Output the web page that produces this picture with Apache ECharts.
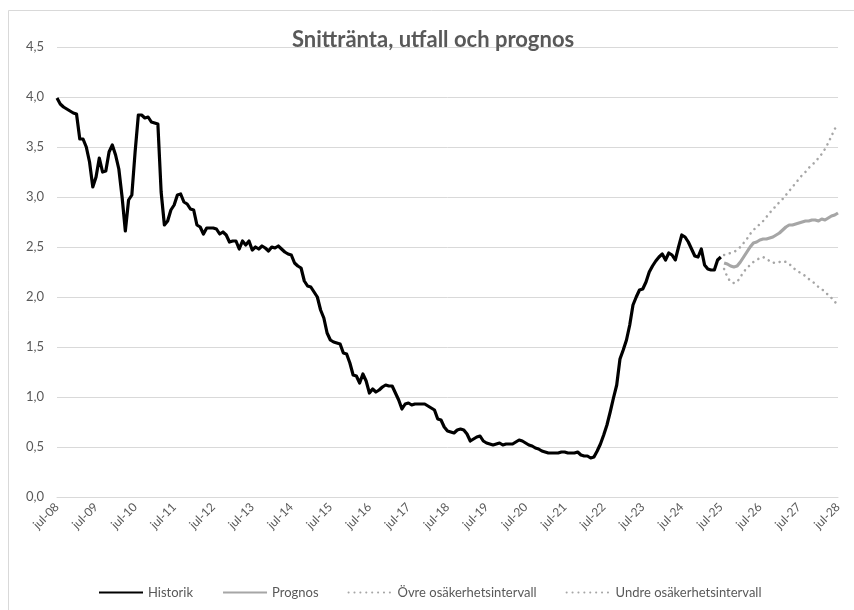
<!DOCTYPE html>
<html>
<head>
<meta charset="utf-8">
<script src="https://cdn.jsdelivr.net/npm/echarts@6/dist/echarts.min.js"></script>
<style>
html,body{margin:0;padding:0;background:#fff;}
#chart{width:854px;height:610px;}
</style>
</head>
<body>
<div id="chart"></div>
<script>
// Month names (Swedish) and period: jul-08 .. jul-28
var monthNames = ['jan','feb','mar','apr','maj','jun','jul','aug','sep','okt','nov','dec'];
var startYear = 2008, startMonth = 6, monthCount = 241;

// Historik: jul-08 .. jul-25 (monthly)
var historik = [
  3.99, 3.93, 3.90, 3.88, 3.86, 3.84, 3.83, 3.58, 3.58, 3.50,
  3.35, 3.10, 3.20, 3.39, 3.25, 3.26, 3.45, 3.52, 3.42, 3.28,
  3.00, 2.66, 2.97, 3.02, 3.45, 3.82, 3.82, 3.79, 3.80, 3.75,
  3.74, 3.73, 3.05, 2.72, 2.76, 2.87, 2.92, 3.02, 3.03, 2.95,
  2.93, 2.88, 2.87, 2.72, 2.70, 2.63, 2.69, 2.69, 2.69, 2.68,
  2.63, 2.65, 2.62, 2.55, 2.56, 2.56, 2.48, 2.56, 2.52, 2.56,
  2.47, 2.50, 2.48, 2.51, 2.49, 2.46, 2.50, 2.49, 2.51, 2.48,
  2.45, 2.43, 2.42, 2.34, 2.31, 2.29, 2.16, 2.11, 2.10, 2.05,
  2.00, 1.87, 1.79, 1.64, 1.57, 1.55, 1.54, 1.53, 1.44, 1.43,
  1.34, 1.22, 1.21, 1.14, 1.23, 1.16, 1.04, 1.08, 1.05, 1.07,
  1.10, 1.12, 1.11, 1.11, 1.04, 0.97, 0.88, 0.93, 0.94, 0.92,
  0.93, 0.93, 0.93, 0.93, 0.91, 0.89, 0.87, 0.78, 0.77, 0.70,
  0.66, 0.65, 0.64, 0.67, 0.68, 0.67, 0.63, 0.56, 0.58, 0.60,
  0.61, 0.56, 0.54, 0.53, 0.52, 0.53, 0.54, 0.52, 0.53, 0.53,
  0.53, 0.55, 0.57, 0.56, 0.54, 0.52, 0.51, 0.49, 0.48, 0.46,
  0.45, 0.44, 0.44, 0.44, 0.44, 0.45, 0.45, 0.44, 0.44, 0.44,
  0.45, 0.42, 0.41, 0.41, 0.39, 0.40, 0.46, 0.53, 0.62, 0.72,
  0.85, 0.99, 1.12, 1.38, 1.47, 1.57, 1.72, 1.92, 2.00, 2.07,
  2.08, 2.15, 2.25, 2.31, 2.36, 2.40, 2.43, 2.37, 2.44, 2.42,
  2.37, 2.50, 2.62, 2.60, 2.55, 2.48, 2.41, 2.40, 2.48, 2.32,
  2.28, 2.27, 2.27, 2.37, 2.40
];

// Prognos and intervals: aug-25 .. jul-28
var prognos = [
  2.34, 2.33, 2.31, 2.30, 2.31, 2.35, 2.40, 2.45, 2.50, 2.54,
  2.55, 2.57, 2.58, 2.58, 2.59, 2.60, 2.62, 2.64, 2.67, 2.70,
  2.72, 2.72, 2.73, 2.74, 2.75, 2.76, 2.76, 2.77, 2.77, 2.76,
  2.78, 2.77, 2.79, 2.81, 2.82, 2.84
];
var ovre = [
  2.42, 2.43, 2.44, 2.45, 2.47, 2.50, 2.54, 2.58, 2.63, 2.67,
  2.70, 2.73, 2.76, 2.80, 2.84, 2.88, 2.91, 2.95, 2.98, 3.02,
  3.06, 3.10, 3.14, 3.18, 3.22, 3.25, 3.29, 3.32, 3.35, 3.39,
  3.43, 3.48, 3.54, 3.61, 3.68, 3.73
];
var undre = [
  2.28, 2.20, 2.15, 2.14, 2.15, 2.20, 2.25, 2.29, 2.32, 2.35,
  2.37, 2.39, 2.40, 2.38, 2.36, 2.34, 2.35, 2.35, 2.36, 2.35,
  2.33, 2.30, 2.27, 2.25, 2.23, 2.21, 2.18, 2.16, 2.13, 2.10,
  2.08, 2.05, 2.02, 1.99, 1.95, 1.93
];

var seriesNames = ['Historik', 'Prognos', 'Övre osäkerhetsintervall', 'Undre osäkerhetsintervall'];
var titleText = 'Snittränta, utfall och prognos';

// Build categories
var categories = [];
for (var i = 0; i < monthCount; i++) {
  var mi = (startMonth + i) % 12;
  var yr = startYear + Math.floor((startMonth + i) / 12);
  categories.push(monthNames[mi] + '-' + String(yr % 100).padStart(2, '0'));
}
function pad(before, arr) {
  var out = [];
  for (var k = 0; k < before; k++) out.push(null);
  return out.concat(arr).concat(new Array(Math.max(0, monthCount - before - arr.length)).fill(null));
}
var fStart = historik.length;

var textColor = '#595959';
var font = 'Lato, "Open Sans", sans-serif';
var chart = echarts.init(document.getElementById('chart'), null, {renderer: 'canvas'});
chart.setOption({
  animation: false,
  backgroundColor: '#fff',
  graphic: [{
    type: 'rect', silent: true, z: -10,
    shape: {x: 8.5, y: 10.5, width: 900, height: 700},
    style: {fill: '#fff', stroke: '#d9d9d9', lineWidth: 1}
  }],
  title: {
    text: titleText, left: 292, top: 29, padding: 0,
    textStyle: {fontFamily: font, fontWeight: 'bold', fontSize: 22, color: textColor}
  },
  grid: {left: 57, right: 16, top: 47, bottom: 113, containLabel: false},
  legend: {
    bottom: 6, left: 93, itemGap: 29, itemWidth: 44, itemHeight: 10,
    itemStyle: {opacity: 0, borderWidth: 0},
    textStyle: {fontFamily: font, fontSize: 13, color: textColor},
    data: seriesNames
  },
  xAxis: {
    type: 'category', data: categories, boundaryGap: false,
    axisLine: {lineStyle: {color: '#d9d9d9', width: 1}},
    axisTick: {show: false},
    axisLabel: {interval: 11, rotate: 45, margin: 8, fontFamily: font, fontSize: 12, color: textColor},
    splitLine: {show: false}
  },
  yAxis: {
    type: 'value', min: 0, max: 4.5, interval: 0.5,
    axisLine: {show: false}, axisTick: {show: false},
    axisLabel: {margin: 13, fontFamily: font, fontSize: 13, color: textColor,
      formatter: function (v) { return v.toFixed(1).replace('.', ','); }},
    splitLine: {lineStyle: {color: '#d9d9d9', width: 1}}
  },
  series: [
    {name: seriesNames[0], type: 'line', data: pad(0, historik), symbol: 'none', connectNulls: false,
      lineStyle: {color: '#000', width: 3.2, join: 'round'}, itemStyle: {color: '#000'}},
    {name: seriesNames[1], type: 'line', data: pad(fStart, prognos), symbol: 'none',
      lineStyle: {color: '#a6a6a6', width: 3.2, join: 'round'}, itemStyle: {color: '#a6a6a6'}},
    {name: seriesNames[2], type: 'line', data: pad(fStart, ovre), symbol: 'none',
      lineStyle: {color: '#a6a6a6', width: 2.5, type: [0.1, 5.8], cap: 'round'}, itemStyle: {color: '#a6a6a6'}},
    {name: seriesNames[3], type: 'line', data: pad(fStart, undre), symbol: 'none',
      lineStyle: {color: '#a6a6a6', width: 2.5, type: [0.1, 5.8], cap: 'round'}, itemStyle: {color: '#a6a6a6'}}
  ]
});
</script>
</body>
</html>
